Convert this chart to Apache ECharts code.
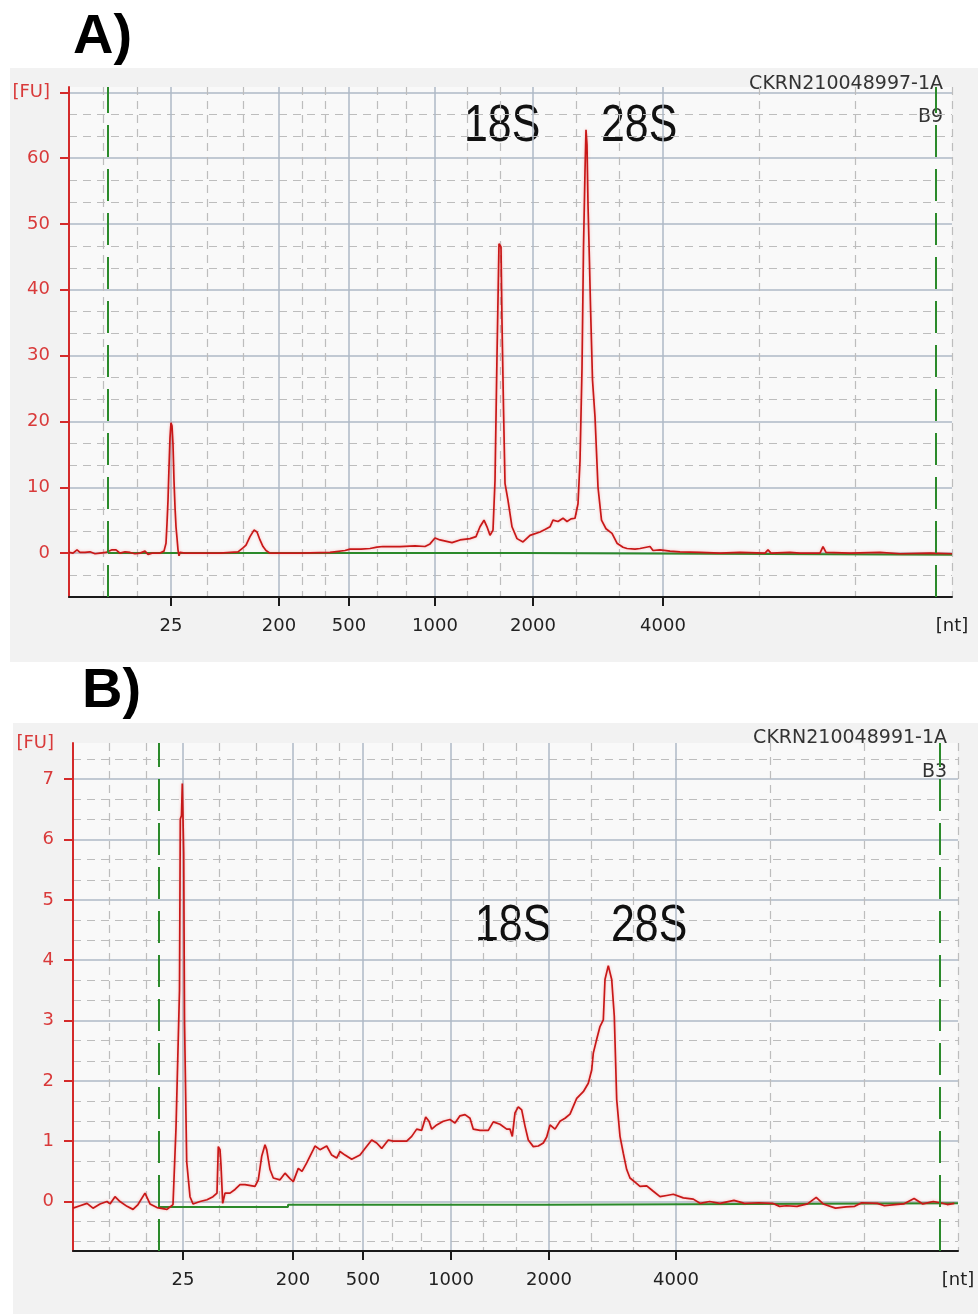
<!DOCTYPE html>
<html>
<head>
<meta charset="utf-8">
<script src="https://cdn.jsdelivr.net/npm/echarts@6/dist/echarts.min.js"></script>
<style>
  html, body { margin: 0; padding: 0; background: #fff; }
  #chart { width: 978px; height: 1314px; }
</style>
</head>
<body>
<div id="chart"></div>
<script>
// ladder sizes written under both x axes
const ladderLabels = ['25', '200', '500', '1000', '2000', '4000'];

// ---- panel A: CKRN210048997-1A / B9 ----
// x is migration time in data points, y is fluorescence [FU]
const ladderTimeA = [102, 210, 280, 366, 464, 594];
const timeEndA = 883;
const markerTimeA = [39, 867];
const fuTicksA = [0, 10, 20, 30, 40, 50, 60, 70];
const traceA = [
  [0, 0.1], [4, 0.0], [8, 0.5], [11, 0.1], [16, 0.1], [21, 0.2], [26, -0.1], [31, 0.0], [37, 0.1],
  [43, 0.5], [47, 0.5], [51, 0.0], [56, 0.2], [61, 0.1], [66, -0.1], [71, 0.0], [76, 0.3], [79, -0.2],
  [83, 0.0], [91, 0.0], [95, 0.3], [97, 1.5], [98, 4.5], [99, 8], [100, 13], [101, 17.5], [102, 19.8],
  [103, 19.3], [104, 16.5], [105, 11], [106, 7], [107, 4], [108, 2.3], [109, 0.5], [110, -0.4], [111, 0.1],
  [116, 0.0], [131, 0.0], [151, 0.0], [169, 0.2], [174, 0.8], [177, 1.2], [181, 2.5], [185, 3.5],
  [188, 3.2], [191, 2.0], [194, 1.0], [197, 0.4], [201, 0.0], [231, 0.0], [261, 0.1], [276, 0.4],
  [281, 0.6], [292, 0.6], [301, 0.7], [308, 0.9], [314, 1.0], [331, 1.0], [346, 1.1], [356, 1.0],
  [361, 1.4], [366, 2.3], [371, 2.0], [383, 1.6], [391, 2.0], [401, 2.2], [407, 2.5], [411, 4.0],
  [415, 5.0], [418, 4.0], [421, 2.7], [424, 3.5], [426, 11], [428, 30], [430, 47], [432, 46.5],
  [433, 35], [434.5, 22], [436, 10.6], [439, 8], [443, 4], [448, 2.2], [454, 1.7], [461, 2.7],
  [471, 3.2], [476, 3.6], [481, 4.0], [484, 5.0], [489, 4.8], [494, 5.3], [498, 4.8], [502, 5.2],
  [506, 5.3], [509, 7.5], [511, 14], [513, 28], [514.5, 46.5], [516, 58], [517, 64.3], [518, 62],
  [519, 53], [520.5, 44], [521.5, 37.5], [523.5, 26.3], [526, 20.7], [529, 10], [532.5, 5.0],
  [537, 3.7], [543, 3.0], [548, 1.5], [554, 0.9], [558, 0.7], [566, 0.6], [571, 0.7], [581, 1.0],
  [584, 0.4], [591, 0.5], [601, 0.3], [611, 0.2], [631, 0.1], [651, 0.0], [671, 0.1], [696, 0.0],
  [699, 0.5], [702, 0.0], [721, 0.1], [731, 0.0], [751, 0.0], [754, 1.0], [757, 0.1], [781, 0.0],
  [811, 0.1], [831, -0.1], [861, 0.0], [883, -0.1]
];
const baselineA = [[39, 0], [454, 0], [454, -0.25], [883, -0.25]];

// ---- panel B: CKRN210048991-1A / B3 ----
const ladderTimeB = [110, 220, 290, 378, 476, 603];
const timeEndB = 885;
const markerTimeB = [86, 867];
const fuTicksB = [0, 1, 2, 3, 4, 5, 6, 7];
const traceB = [
  [0, -0.11], [7, -0.07], [14, -0.03], [20, -0.11], [27, -0.04], [34, 0.0], [37, -0.04], [42, 0.08],
  [47, 0.0], [54, -0.08], [60, -0.13], [65, -0.05], [72, 0.14], [77, -0.04], [84, -0.1], [94, -0.13],
  [100, -0.05], [103, 1.22], [105, 1.25], [106.5, 3.5], [107.3, 6.34], [108.5, 6.4], [109.3, 6.93],
  [110.7, 5.78], [111.5, 3.0], [113.7, 0.66], [117, 0.08], [120, -0.04], [127, 0.0], [134, 0.03],
  [140, 0.08], [144, 0.14], [145.3, 0.91], [147, 0.86], [148, 0.6], [149.7, -0.03], [152, 0.14],
  [157, 0.14], [162, 0.2], [167, 0.28], [172, 0.28], [182, 0.25], [185.3, 0.36], [188.7, 0.75],
  [192, 0.94], [193.7, 0.86], [197, 0.53], [200.3, 0.39], [207, 0.36], [212, 0.47], [217, 0.38],
  [220.3, 0.33], [225.3, 0.55], [229, 0.5], [233.7, 0.64], [240.3, 0.86], [242, 0.92], [247, 0.86],
  [253.7, 0.92], [258.7, 0.77], [263.7, 0.72], [267, 0.83], [272, 0.77], [278.7, 0.7], [287, 0.77],
  [292, 0.88], [298.7, 1.02], [303.7, 0.97], [308.7, 0.88], [315.3, 1.02], [320.3, 1.0], [333.7, 1.0],
  [338.7, 1.08], [343.7, 1.2], [348.7, 1.18], [352.7, 1.4], [356, 1.33], [358.7, 1.2], [363.7, 1.27],
  [370.3, 1.33], [377, 1.36], [382, 1.3], [387, 1.42], [392, 1.44], [397, 1.38], [400.3, 1.2],
  [407, 1.18], [415.3, 1.18], [420.3, 1.32], [427, 1.28], [433.7, 1.2], [437, 1.2], [439.3, 1.08],
  [442, 1.47], [445.3, 1.57], [448.7, 1.52], [452, 1.25], [455.3, 1.02], [460.3, 0.91], [465.3, 0.92],
  [470.3, 0.97], [473.7, 1.07], [477, 1.27], [482, 1.2], [487, 1.33], [492, 1.38], [497, 1.45],
  [503.7, 1.71], [510.3, 1.82], [515.3, 1.96], [518.7, 2.18], [520.3, 2.46], [523.7, 2.69], [527, 2.9],
  [530.3, 3.01], [532, 3.68], [535.3, 3.91], [537, 3.91], [538.7, 3.68], [541.3, 3.07], [543.7, 1.69],
  [547, 1.08], [550.3, 0.8], [553.7, 0.53], [557, 0.39], [562, 0.32], [567, 0.25], [573.7, 0.26],
  [580.3, 0.17], [587, 0.08], [593.7, 0.1], [600.3, 0.12], [610.3, 0.06], [620.3, 0.04], [627, -0.03],
  [636.6, 0.0], [647, -0.03], [661, 0.02], [671.6, -0.03], [685.6, -0.02], [699.5, -0.03],
  [706.5, -0.08], [713.5, -0.07], [724, -0.08], [734.5, -0.04], [743.2, 0.07], [750.2, -0.04],
  [762.5, -0.11], [773, -0.09], [781.7, -0.08], [788.7, -0.02], [804.4, -0.03], [811.4, -0.07],
  [821.9, -0.05], [830.6, -0.04], [841.1, 0.05], [849.8, -0.04], [860.3, 0.0], [867.3, -0.02],
  [874.3, -0.05], [881.3, -0.03]
];
const baselineB = [[86, -0.09], [215, -0.09], [215, -0.055], [476, -0.055], [476, -0.027], [885, -0.027]];

// every interval between two solid grid lines is split in three dashed ones
function thirds(stops) {
  const out = [];
  for (let i = 0; i < stops.length - 1; i++) {
    const a = stops[i], b = stops[i + 1];
    out.push(a + (b - a) / 3, a + 2 * (b - a) / 3);
  }
  return out;
}

const RED = '#d42a2a';
const GREEN = '#2b8a2b';
const FONT = 'DejaVu Sans';

function mainX(grid, ladder, end) {
  return {
    gridIndex: grid, type: 'value', min: 0, max: end, position: 'bottom',
    axisLine: { show: true, onZero: false, lineStyle: { color: '#1a1a1a', width: 2 } },
    axisTick: { show: true, length: 9, lineStyle: { color: '#1a1a1a', width: 2 }, customValues: ladder },
    axisLabel: {
      customValues: ladder.concat([end]), margin: 20, color: '#222', fontSize: 18, fontFamily: FONT,
      formatter: v => { const i = ladder.indexOf(v); return i >= 0 ? ladderLabels[i] : '[nt]'; }
    },
    splitLine: { show: true, lineStyle: { color: '#aeb8c6', width: 1.5 } }
  };
}
function mainY(grid, min, max, ticks, fuAt) {
  return {
    gridIndex: grid, type: 'value', min: min, max: max,
    axisLine: { show: true, onZero: false, lineStyle: { color: RED, width: 2 } },
    axisTick: { show: true, length: 9, lineStyle: { color: RED, width: 2 }, customValues: ticks },
    axisLabel: {
      customValues: ticks.indexOf(fuAt) >= 0 ? ticks : ticks.concat([fuAt]),
      margin: 19, color: '#d93a3a', fontSize: 18, fontFamily: FONT,
      formatter: v => (v === fuAt ? '[FU]' : String(v))
    },
    splitLine: { show: true, lineStyle: { color: '#aeb8c6', width: 1.5 } }
  };
}
function minorAxis(grid, min, max, values) {
  return {
    gridIndex: grid, type: 'value', min: min, max: max,
    axisLine: { show: false }, axisLabel: { show: false },
    axisTick: { show: false, customValues: values },
    splitLine: { show: true, lineStyle: { color: '#bdbdbd', width: 1.2, type: [8, 6] } }
  };
}

const minA = -20 / 3, maxA = 70.8;
const minB = -0.82, maxB = 7.6;
const xMinorA = thirds([0].concat(ladderTimeA, [timeEndA])).concat([timeEndA]);
const xMinorB = thirds([0].concat(ladderTimeB, [timeEndB])).concat([timeEndB]);
const yMinorA = thirds([-10].concat(fuTicksA)).filter(v => v >= minA - 1e-6);
const yMinorB = thirds([-1].concat(fuTicksB, [8])).filter(v => v >= minB && v <= maxB);

function baselineSeries(x, y, data, markers) {
  return {
    type: 'line', xAxisIndex: x, yAxisIndex: y, data: data, showSymbol: false, z: 3,
    lineStyle: { color: GREEN, width: 2 },
    markLine: {
      silent: true, symbol: 'none', label: { show: false },
      lineStyle: { color: GREEN, width: 2, type: [32, 12] },
      data: markers.map(v => ({ xAxis: v }))
    }
  };
}
function traceSeries(x, y, data) {
  return {
    type: 'line', xAxisIndex: x, yAxisIndex: y, data: data, showSymbol: false, z: 4,
    lineStyle: { color: '#c81818', width: 1.7, shadowColor: 'rgba(255,60,60,0.35)', shadowBlur: 3 }
  };
}

function label(t, x, y, size, extra) {
  return Object.assign({
    type: 'text', x: x, y: y, silent: true,
    style: Object.assign({ text: t, fontSize: size, fontFamily: FONT, fill: '#333', verticalAlign: 'middle', align: 'left' }, extra || {})
  });
}
function heading(t, x, y) {
  return label(t, x, y, 56, { fontWeight: 'bold', fontFamily: 'Liberation Sans', fill: '#000' });
}
function peakName(t, x, y) {
  // the original uses a condensed face: squeeze a regular sans horizontally
  return Object.assign(label(t, x, y, 51, { fontFamily: 'Liberation Sans', fill: '#111' }), { scaleX: 0.84 });
}

const chart = echarts.init(document.getElementById('chart'), null, { renderer: 'canvas' });
chart.setOption({
  animation: false,
  backgroundColor: '#ffffff',
  grid: [
    { left: 69, top: 87, width: 883, height: 510, show: true, backgroundColor: '#f9f9f9', borderWidth: 0 },
    { left: 73, top: 743, width: 885, height: 508, show: true, backgroundColor: '#f9f9f9', borderWidth: 0 }
  ],
  xAxis: [
    mainX(0, ladderTimeA, timeEndA),
    mainX(1, ladderTimeB, timeEndB),
    minorAxis(0, 0, timeEndA, xMinorA),
    minorAxis(1, 0, timeEndB, xMinorB)
  ],
  yAxis: [
    mainY(0, minA, maxA, fuTicksA, 70),
    mainY(1, minB, maxB, fuTicksB, maxB),
    minorAxis(0, minA, maxA, yMinorA),
    minorAxis(1, minB, maxB, yMinorB)
  ],
  series: [
    baselineSeries(0, 0, baselineA, markerTimeA),
    traceSeries(0, 0, traceA),
    baselineSeries(1, 1, baselineB, markerTimeB),
    traceSeries(1, 1, traceB)
  ],
  graphic: [
    { type: 'rect', z: -10, silent: true, shape: { x: 10, y: 68, width: 968, height: 594 }, style: { fill: '#f2f2f2' } },
    { type: 'rect', z: -10, silent: true, shape: { x: 13, y: 723, width: 965, height: 591 }, style: { fill: '#f2f2f2' } },
    heading('A)', 73, 38),
    heading('B)', 82, 692),
    peakName('18S', 464, 127),
    peakName('28S', 601, 127),
    peakName('18S', 475, 927),
    peakName('28S', 611, 927),
    label('CKRN210048997-1A', 943, 84, 19, { align: 'right' }),
    label('B9', 943, 117, 19, { align: 'right' }),
    label('CKRN210048991-1A', 947, 738, 19, { align: 'right' }),
    label('B3', 947, 772, 19, { align: 'right' })
  ]
});
</script>
</body>
</html>
